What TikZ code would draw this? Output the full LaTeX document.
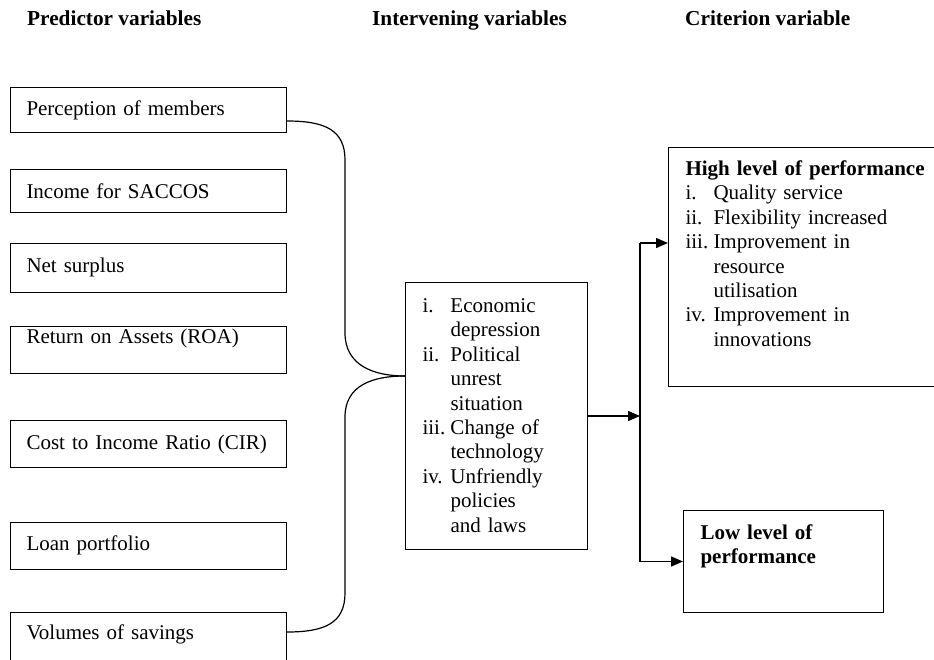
\documentclass[tikz,border=0pt]{standalone}
\usepackage{fontspec}
\setmainfont{Liberation Serif}
\usetikzlibrary{arrows.meta,calc}
\newcommand{\listlab}[1]{\makebox[28pt][l]{#1}}
\newcommand{\listind}{\hspace*{28pt}}

\begin{document}
\begin{tikzpicture}[x=1pt, y=-1pt,
  every node/.style={font=\fontsize{21}{24.4}\selectfont},
  heading/.style={font=\fontsize{21.3}{24.4}\selectfont\bfseries, anchor=base west, inner sep=0pt},
  predictor/.style={draw, line width=1pt, anchor=north west, inner xsep=16pt, inner ysep=0pt, text width=244pt, align=left},
  panel/.style={draw, line width=1pt, anchor=north west, inner xsep=17pt, inner ysep=0pt, align=left},
  link/.style={line width=1.2pt},
  arrow/.style={line width=1.4pt, -{Triangle[length=12pt,width=10pt]}}]
\useasboundingbox (0,0) rectangle (934,659);
% column headings
\node[heading] (hpred) at (27,25) {Predictor variables};
\node[heading] (hint) at (372,25) {Intervening variables};
\node[heading] (hcrit) at (685,25) {Criterion variable};
% predictor boxes
\node[predictor, text height=28pt, text depth=17pt] (p1) at (10,87) {Perception of members};
\node[predictor, text height=29pt, text depth=14pt] (p2) at (10,169) {Income for SACCOS};
\node[predictor, text height=29pt, text depth=20pt] (p3) at (10,243) {Net surplus};
\node[predictor, text height=17pt, text depth=30pt] (p4) at (10,326) {Return on Assets (ROA)};
\node[predictor, text height=29pt, text depth=18pt] (p5) at (10,420) {Cost to Income Ratio (CIR)};
\node[predictor, text height=28pt, text depth=19pt] (p6) at (10,522) {Loan portfolio};
\node[predictor, text height=27pt, text depth=26pt] (p7) at (10,612) {Volumes of savings};
% intervening box
\node[panel, text width=148pt, text height=30pt, text depth=237pt] (mid) at (405,282)
  {\listlab{i.}Economic\\ \listind depression\\ \listlab{ii.}Political\\ \listind unrest\\ \listind situation\\
   \listlab{iii.}Change of\\ \listind technology\\ \listlab{iv.}Unfriendly\\ \listind policies\\ \listind and laws};
% criterion boxes
\node[panel, text width=262pt, text height=28pt, text depth=211pt] (high) at (668,147)
  {\textbf{High level of performance}\\ \listlab{i.}Quality service\\ \listlab{ii.}Flexibility increased\\
   \listlab{iii.}Improvement in\\ \listind resource\\ \listind utilisation\\ \listlab{iv.}Improvement in\\ \listind innovations};
\node[panel, text width=166pt, text height=29pt, text depth=73pt, font=\fontsize{21}{24.4}\selectfont\bfseries] (low) at (683,510)
  {Low level of\\performance};
\coordinate (join) at ([yshift=-94pt]mid.north west);
\coordinate (bt) at (640,243);
\coordinate (bb) at (bt |- low.west);
% brace
\draw[link] ([yshift=-34pt]p1.north east) .. controls +(38,0) and +(0,-30) .. (345,160) -- (345,333)
  .. controls +(0,32) and +(-32,0) .. (join);
\draw[link] (join) .. controls +(-32,0) and +(0,-32) .. (345,417) -- (345,593)
  .. controls +(0,30) and +(38,0) .. ([yshift=-20pt]p7.north east);
% split to outcomes
\draw[link] (bt) -- (bb);
\draw[arrow] (mid.east) -- (mid.east -| bt);
\draw[arrow] (bt) -- (bt -| high.west);
\draw[arrow] (bb) -- (bb -| low.west);
\end{tikzpicture}
\end{document}
